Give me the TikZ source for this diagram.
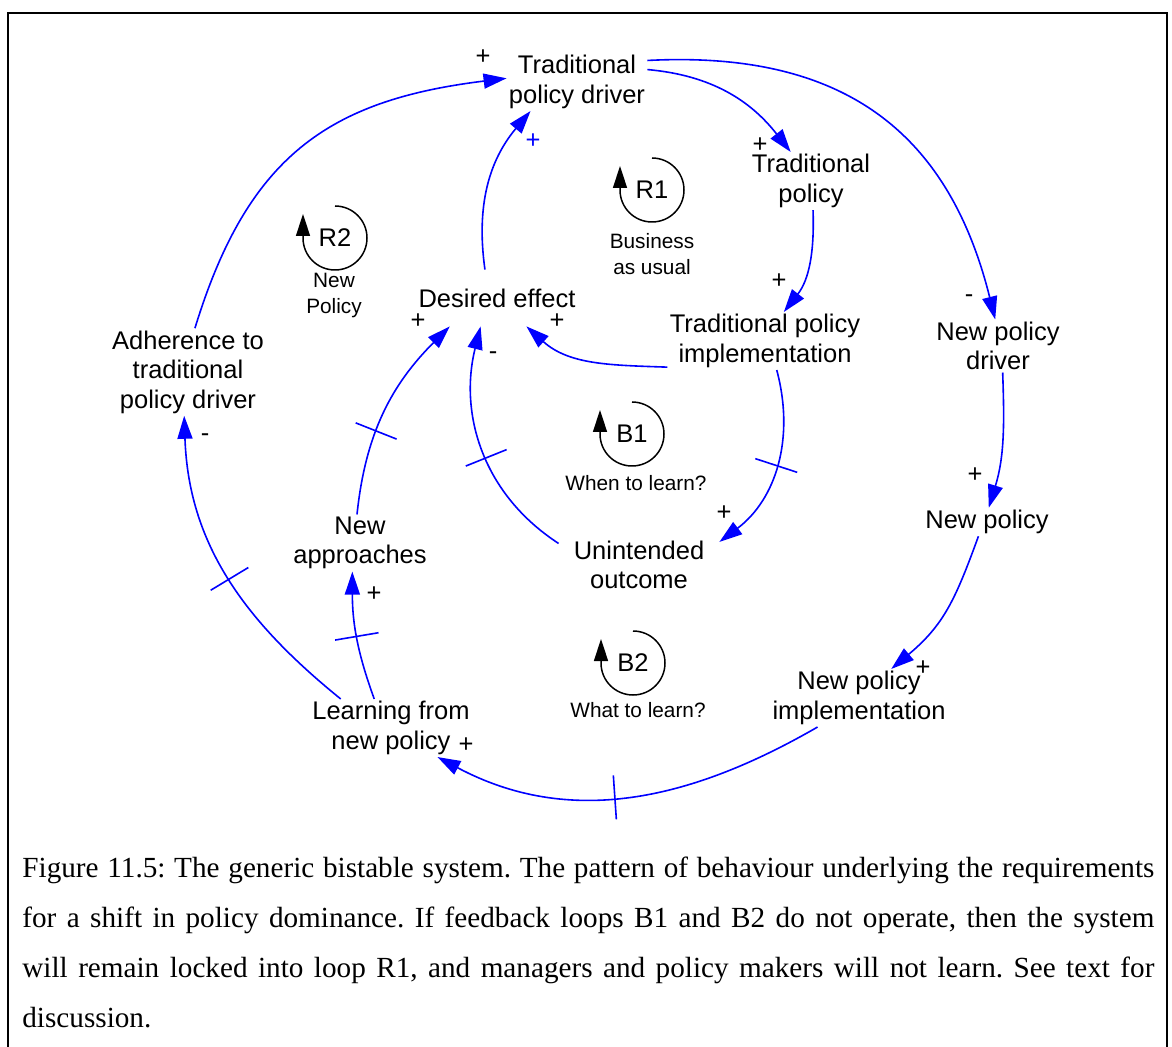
\documentclass[tikz,border=0pt]{standalone}
\usepackage{fontspec}
\setmainfont{Liberation Sans}
\newfontfamily\captionfont{Liberation Serif}
\usetikzlibrary{arrows.meta,decorations.markings}
\frenchspacing

\tikzset{
  var/.style={font=\fontsize{12.75}{14.75}\selectfont, align=center, inner sep=1pt},
  note/.style={font=\fontsize{10.4}{13}\selectfont, align=center, inner sep=0pt},
  sign/.style={font=\fontsize{12.75}{14.75}\selectfont, inner sep=0pt},
  link/.style={blue, line width=0.8pt, -{Triangle[length=11.5pt,width=7.5pt]}},
  delaymark/.style={postaction={decorate, decoration={markings,
      mark=at position #1 with {\draw[-,blue,line width=0.8pt] (0,-11pt) -- (0,11pt);}}}},
  loopsym/.style={line width=0.75pt, -{Triangle[length=11pt,width=7pt]}}
}

\begin{document}
\begin{tikzpicture}[x=0.5pt, y=0.5pt]
	\useasboundingbox (0,0) rectangle (1172,-1047);
	% Frame
	\draw[line width=1.3pt] (8,-1070) -- (8,-13) -- (1167,-13) -- (1167,-1070);

	% Variables
	\node[var] (tpd) at (577,-82) {Traditional\\policy driver};
	\node[var] (tp) at (811,-181) {Traditional\\policy};
	\node[var] (tpi) at (765,-341) {Traditional policy\\implementation};
	\node[var] (npd) at (998,-346) {New policy\\driver};
	\node[var] (np) at (987,-522) {New policy};
	\node[var] (npi) at (859,-698) {New policy\\implementation};
	\node[var] (lnp) at (391,-728) {Learning from\\new policy};
	\node[var] (na) at (360,-543) {New\\approaches};
	\node[var, minimum width=80pt] (uo) at (639,-565) {Unintended\\outcome};
	\node[var, minimum height=28pt] (de) at (497,-298) {Desired effect};
	\node[var] (adh) at (188,-372) {Adherence to\\traditional\\policy driver};

	% Links
	\draw[link] (tpd.10) to[out=-5, in=128] (tp.125);
	\draw[link] (tpd.17) to[out=3, in=104, looseness=1.15] (npd.96);
	\draw[link] (tp.-86) to[out=-88, in=52] (tpi.57);
	\draw[link] (tpi.195) to[out=178, in=-42] (de.-44);
	\draw[link, delaymark=0.5] (tpi.-68) to[out=-75, in=37] (uo.16);
	\draw[link, delaymark=0.46] (uo.165) to[out=147, in=-104] (de.-120);
	\draw[link] (de.113) to[out=98, in=-130] (tpd.212);
	\draw[link] (adh.81) to[out=73, in=187, looseness=1.15] (tpd.177);
	\draw[link, delaymark=0.49] (lnp.150) to[out=141, in=-88] (adh.-95);
	\draw[link, delaymark=0.5] (lnp.120) to[out=110, in=-90] (na.-105);
	\draw[link, delaymark=0.4] (na.96) to[out=84, in=225] (de.211);
	\draw[link] (npd.-80) to[out=-88, in=73] (np.83);
	\draw[link] (np.-121) to[out=-110, in=40, looseness=1.1] (npi.42);
	\draw[link, delaymark=0.54] (npi.215) to[out=-150, in=-28] (lnp.-32);

	% Polarities
	\node[sign] (s1) at (483,-57) {+};
	\node[sign, blue] (s2) at (533,-141) {+};
	\node[sign] (s3) at (760,-145) {+};
	\node[sign] (s4) at (969,-299) {-};
	\node[sign] (s5) at (779,-281) {+};
	\node[sign] (s6) at (557,-321) {+};
	\node[sign] (s7) at (418,-321) {+};
	\node[sign] (s8) at (493,-356) {-};
	\node[sign] (s9) at (724,-513) {+};
	\node[sign] (s10) at (975,-475) {+};
	\node[sign] (s11) at (923,-668) {+};
	\node[sign] (s12) at (466,-745) {+};
	\node[sign] (s13) at (374,-594) {+};
	\node[sign] (s14) at (205,-438) {-};

	% Loops
	\node[sign] (r1) at (652,-190) {R1};
	\draw[loopsym] (r1.center) ++(0,32) arc[start angle=90, end angle=-180, radius=32] -- ++(0,24);
	\node[note] (r1txt) at (652,-254) {Business\\as usual};
	\node[sign] (r2) at (335,-238) {R2};
	\draw[loopsym] (r2.center) ++(0,32) arc[start angle=90, end angle=-180, radius=32] -- ++(0,24);
	\node[note] (r2txt) at (334,-296) {New\\Policy};
	\node[sign] (b1) at (632,-434) {B1};
	\draw[loopsym] (b1.center) ++(0,32) arc[start angle=90, end angle=-180, radius=32] -- ++(0,24);
	\node[note] (b1txt) at (636,-483) {When to learn?};
	\node[sign] (b2) at (633,-663) {B2};
	\draw[loopsym] (b2.center) ++(0,32) arc[start angle=90, end angle=-180, radius=32] -- ++(0,24);
	\node[note] (b2txt) at (638,-710) {What to learn?};

	% Caption
	\node[anchor=north west, text width=566pt, align=justify, inner sep=0pt,
		font=\captionfont\fontsize{14.6}{25}\selectfont] (cap) at (22,-857)
		{Figure 11.5: The generic bistable system. The pattern of behaviour underlying the requirements\linebreak
		for a shift in policy dominance. If feedback loops B1 and B2 do not operate, then the system\linebreak
		will remain locked into loop R1, and managers and policy makers will not learn. See text for\linebreak
		discussion.};
\end{tikzpicture}
\end{document}
